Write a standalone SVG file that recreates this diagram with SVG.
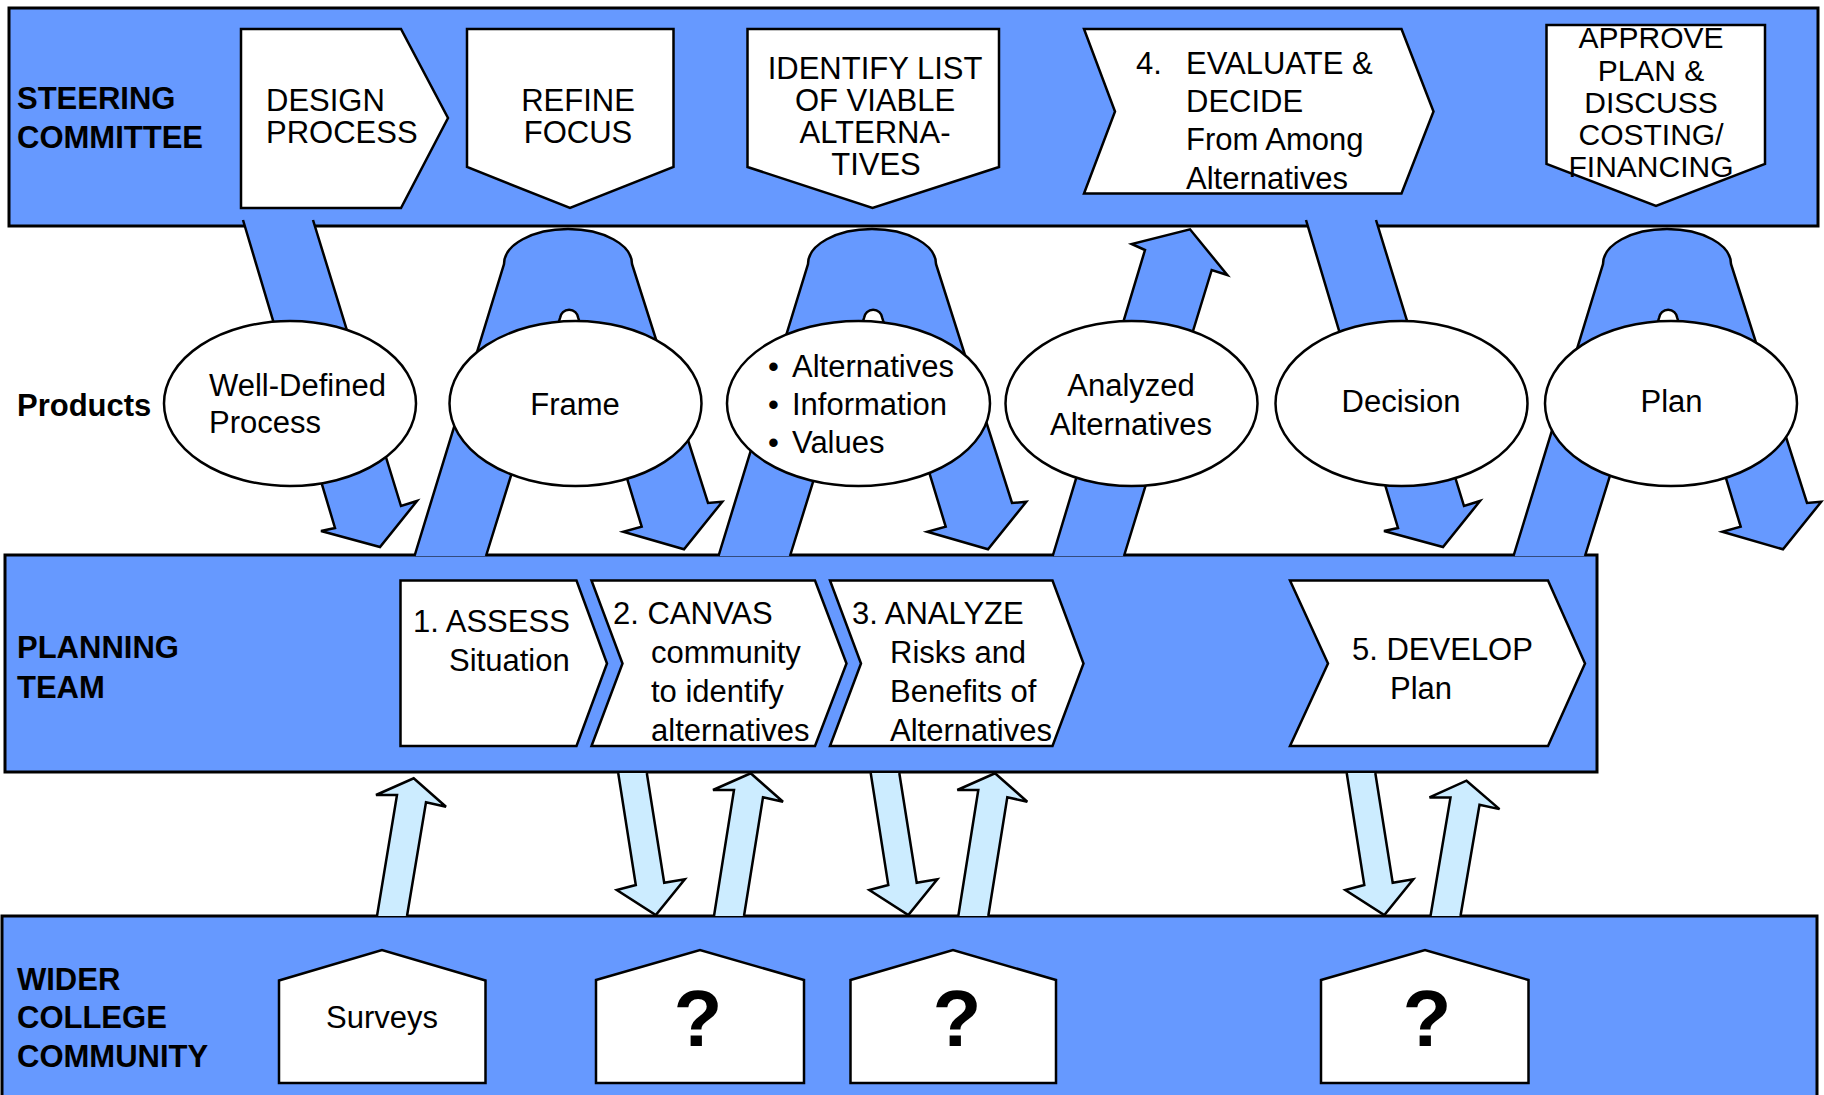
<svg xmlns="http://www.w3.org/2000/svg" width="1824" height="1095" viewBox="0 0 1824 1095">
  <style>
    .band { fill: #6699FF; stroke: #000; stroke-width: 3; }
    .box { fill: #FFFFFF; stroke: #000; stroke-width: 2.5; }
    .big { fill: #6699FF; stroke: #000; stroke-width: 2.5; }
    .lite { fill: #CCECFF; stroke: #000; stroke-width: 2.5; }
    text { font-family: "Liberation Sans", Arial, Helvetica, sans-serif; font-size: 31px; fill: #000; }
    .lbl { font-weight: bold; }
    .mid { text-anchor: middle; }
    .tight { font-size: 30px; }
    .q { font-weight: bold; font-size: 80px; text-anchor: middle; }
  </style>
  <defs>
    <!-- curved up-and-over arrow that loops round a product ellipse -->
    <path id="loop" class="big" d="M414.5,556 L504,264 A64,35 0 0 1 632,264 L708,503 L722.3,501.7 L684,549.3 L623.3,531.7 L641.7,526.7 L578.3,318 A9.2,9.2 0 0 0 560,318 L486,556"/>
    <!-- straight downward block arrow -->
    <path id="down" class="big" d="M243,220 L335,528 L321,531 L380,547 L417,501 L401,506 L313,220"/>
    <!-- thin light arrow down to the community -->
    <path id="liteDown" class="lite" d="M870.7,773 L888.3,885 L869.3,890 L908.3,915 L937.3,879.3 L916.7,882.7 L899.3,773"/>
  </defs>

  <rect width="1824" height="1095" fill="#FFFFFF"/>

  <!-- swim lanes -->
  <g id="lane-steering">
    <rect class="band" x="9" y="8" width="1809" height="218"/>
    <text class="lbl" x="17" y="109">STEERING</text>
    <text class="lbl" x="17" y="148">COMMITTEE</text>
  </g>
  <g id="lane-planning">
    <rect class="band" x="5" y="555" width="1592" height="217"/>
    <text class="lbl" x="17" y="658">PLANNING</text>
    <text class="lbl" x="17" y="698">TEAM</text>
  </g>
  <g id="lane-community">
    <rect class="band" x="2" y="916" width="1815" height="200"/>
    <text class="lbl" x="17" y="990">WIDER</text>
    <text class="lbl" x="17" y="1028">COLLEGE</text>
    <text class="lbl" x="17" y="1067">COMMUNITY</text>
  </g>
  <text id="lane-products" class="lbl" x="17" y="416">Products</text>

  <!-- steering committee steps -->
  <g id="design-process">
    <polygon class="box" points="241,29 401,29 448,118 401,208 241,208"/>
    <text x="266" y="111">DESIGN</text>
    <text x="266" y="143">PROCESS</text>
  </g>
  <g id="refine-focus">
    <polygon class="box" points="467,29 673.5,29 673.5,167 570,208 467,167"/>
    <text class="mid" x="578" y="111">REFINE</text>
    <text class="mid" x="578" y="143">FOCUS</text>
  </g>
  <g id="identify-list">
    <polygon class="box" points="747.5,29 999,29 999,167 872.5,208 747.5,167"/>
    <text class="mid" x="875" y="79">IDENTIFY LIST</text>
    <text class="mid" x="875" y="111">OF VIABLE</text>
    <text class="mid" x="875" y="143">ALTERNA-</text>
    <text class="mid" x="876" y="175">TIVES</text>
  </g>
  <g id="evaluate-decide">
    <polygon class="box" points="1084,29 1401.5,29 1433.5,111.5 1401.5,193.5 1084,193.5 1115,111.5"/>
    <text x="1136" y="74">4.</text>
    <text x="1186" y="74">EVALUATE &amp;</text>
    <text x="1186" y="112">DECIDE</text>
    <text x="1186" y="150">From Among</text>
    <text x="1186" y="189">Alternatives</text>
  </g>
  <g id="approve-plan">
    <polygon class="box" points="1546.5,25 1765,25 1765,164 1656,206 1546.5,164"/>
    <text class="mid tight" x="1651" y="48">APPROVE</text>
    <text class="mid tight" x="1651" y="81">PLAN &amp;</text>
    <text class="mid tight" x="1651" y="113">DISCUSS</text>
    <text class="mid tight" x="1651" y="145">COSTING/</text>
    <text class="mid tight" x="1651" y="177">FINANCING</text>
  </g>

  <!-- planning team steps -->
  <g id="assess">
    <polygon class="box" points="400.5,580.5 576.5,580.5 607,663.5 576.5,746 400.5,746"/>
    <text x="413" y="632">1. ASSESS</text>
    <text x="449" y="671">Situation</text>
  </g>
  <g id="canvas">
    <polygon class="box" points="591.5,580.5 815,580.5 846.5,663.5 815,746 591.5,746 622.5,663.5"/>
    <text x="613" y="624">2. CANVAS</text>
    <text x="651" y="663">community</text>
    <text x="651" y="702">to identify</text>
    <text x="651" y="741">alternatives</text>
  </g>
  <g id="analyze">
    <polygon class="box" points="830,580.5 1052.5,580.5 1083.5,663.5 1052.5,746 830,746 861,663.5"/>
    <text x="852" y="624">3. ANALYZE</text>
    <text x="890" y="663">Risks and</text>
    <text x="890" y="702">Benefits of</text>
    <text x="890" y="741">Alternatives</text>
  </g>
  <g id="develop">
    <polygon class="box" points="1290,580.5 1548,580.5 1585,663.5 1548,746 1290,746 1328,663.5"/>
    <text x="1352" y="660">5. DEVELOP</text>
    <text x="1390" y="699">Plan</text>
  </g>

  <!-- community inputs -->
  <g id="surveys">
    <polygon class="box" points="279,1083 279,980.5 382,950 485.5,980.5 485.5,1083"/>
    <text class="mid" x="382" y="1028">Surveys</text>
  </g>
  <g id="input-2">
    <polygon class="box" points="596,1083 596,980 700,950 804,980 804,1083"/>
    <text class="q" x="698" y="1046">?</text>
  </g>
  <g id="input-3">
    <polygon class="box" points="850.5,1083 850.5,980 953,950 1056,980 1056,1083"/>
    <text class="q" x="957" y="1046">?</text>
  </g>
  <g id="input-5">
    <polygon class="box" points="1321,1083 1321,980 1425,950 1528.5,980 1528.5,1083"/>
    <text class="q" x="1427" y="1046">?</text>
  </g>

  <!-- flows between the lanes -->
  <g id="connectors">
    <use href="#down"/>
    <use href="#loop"/>
    <use href="#loop" transform="translate(304,0)"/>
    <path class="big" d="M1052.7,556 L1145,250 L1131.7,244 L1190,229.3 L1227.3,275 L1211.7,270 L1124,556"/>
    <use href="#down" transform="translate(1063,0)"/>
    <use href="#loop" transform="translate(1099,0)"/>

    <path class="lite" d="M377,916 L397,795 L376,795 L413.7,778.3 L446,806.7 L426,802.3 L407,916"/>
    <use href="#liteDown" transform="translate(-252.5,0)"/>
    <path class="lite" d="M714,916 L734,790 L713,790 L750.7,773.3 L783,801.7 L763,797.3 L744,916"/>
    <use href="#liteDown"/>
    <path class="lite" d="M958.3,916 L978.3,790 L957.3,790 L995,773.3 L1027.3,801.7 L1007.3,797.3 L988.3,916"/>
    <use href="#liteDown" transform="translate(476,0)"/>
    <path class="lite" d="M1430.5,916 L1450.5,797.4 L1429.5,797.4 L1466.5,780.7 L1499.5,809.1 L1479.5,804.7 L1460.5,916"/>
  </g>

  <!-- products -->
  <g id="product-process">
    <ellipse class="box" cx="290" cy="403.5" rx="126" ry="82.5"/>
    <text x="209" y="396">Well-Defined</text>
    <text x="209" y="433">Process</text>
  </g>
  <g id="product-frame">
    <ellipse class="box" cx="575.5" cy="403.5" rx="126" ry="82.5"/>
    <text class="mid" x="575" y="415">Frame</text>
  </g>
  <g id="product-inputs">
    <ellipse class="box" cx="858.5" cy="403.5" rx="131.5" ry="82.5"/>
    <text x="768" y="377">•</text>
    <text x="792" y="377">Alternatives</text>
    <text x="768" y="415">•</text>
    <text x="792" y="415">Information</text>
    <text x="768" y="453">•</text>
    <text x="792" y="453">Values</text>
  </g>
  <g id="product-analyzed">
    <ellipse class="box" cx="1131.5" cy="403.5" rx="126" ry="82.5"/>
    <text class="mid" x="1131" y="396">Analyzed</text>
    <text class="mid" x="1131" y="435">Alternatives</text>
  </g>
  <g id="product-decision">
    <ellipse class="box" cx="1401.5" cy="403.5" rx="126" ry="82.5"/>
    <text class="mid" x="1401" y="412">Decision</text>
  </g>
  <g id="product-plan">
    <ellipse class="box" cx="1671" cy="403.5" rx="126" ry="82.5"/>
    <text class="mid" x="1671.5" y="412">Plan</text>
  </g>
</svg>
